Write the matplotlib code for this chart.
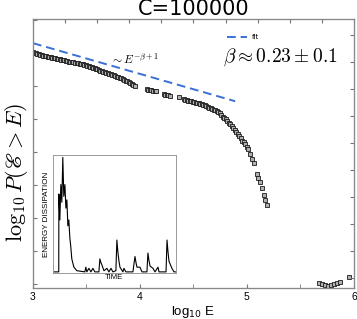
import numpy as np
import matplotlib
matplotlib.use('Agg')
import matplotlib.pyplot as plt

plt.rcParams['mathtext.fontset'] = 'cm'

###### CCDF data (log10 E, log10 P) ######
logE = [3.000, 3.014, 3.028, 3.042, 3.056, 3.070, 3.084, 3.098, 3.112, 3.126,
        3.140, 3.154, 3.168, 3.182, 3.196, 3.210, 3.224, 3.238, 3.252, 3.266,
        3.280, 3.294, 3.308, 3.322, 3.336, 3.350, 3.364, 3.378, 3.393, 3.407,
        3.421, 3.435, 3.449, 3.463, 3.477, 3.491, 3.505, 3.519, 3.533, 3.547,
        3.561, 3.575, 3.589, 3.603, 3.617, 3.631, 3.645, 3.659, 3.673, 3.687,
        3.701, 3.715, 3.729, 3.743, 3.757, 3.771, 3.785, 3.799, 3.813, 3.827,
        3.841, 3.855, 3.869, 3.883, 3.897, 3.911, 3.925, 3.939, 3.953,
        4.065, 4.079, 4.093, 4.107, 4.121, 4.136, 4.150,
        4.224, 4.238, 4.252, 4.266, 4.280,
        4.364,
        4.411, 4.425, 4.439, 4.453, 4.467, 4.481, 4.495, 4.509, 4.523, 4.537,
        4.551, 4.565, 4.579, 4.593, 4.607, 4.621, 4.635, 4.649, 4.663, 4.677,
        4.691, 4.705, 4.719, 4.733, 4.747, 4.761, 4.775, 4.789, 4.803, 4.817,
        4.831, 4.845, 4.859, 4.873, 4.887, 4.901, 4.915, 4.929, 4.943, 4.957,
        4.971, 4.985, 4.999, 5.013, 5.028, 5.047, 5.065,
        5.093, 5.107, 5.121, 5.140, 5.159, 5.173, 5.187,
        5.673, 5.701, 5.729, 5.757, 5.785, 5.813, 5.841, 5.869, 5.953]
logP = [-0.485, -0.492, -0.500, -0.508, -0.515, -0.523, -0.530, -0.538, -0.545, -0.550,
        -0.555, -0.560, -0.565, -0.570, -0.575, -0.580, -0.585, -0.590, -0.595, -0.600,
        -0.606, -0.612, -0.618, -0.623, -0.628, -0.633, -0.638, -0.643, -0.648, -0.652,
        -0.657, -0.662, -0.667, -0.672, -0.678, -0.684, -0.690, -0.697, -0.705, -0.713,
        -0.722, -0.731, -0.740, -0.749, -0.758, -0.767, -0.776, -0.784, -0.792, -0.800,
        -0.808, -0.815, -0.823, -0.831, -0.840, -0.849, -0.858, -0.867, -0.876, -0.885,
        -0.895, -0.906, -0.918, -0.930, -0.942, -0.958, -0.975, -0.988, -1.000,
        -1.050, -1.056, -1.061, -1.065, -1.068, -1.072, -1.076,
        -1.121, -1.128, -1.136, -1.143, -1.150,
        -1.167,
        -1.197, -1.205, -1.212, -1.220, -1.227, -1.232, -1.237, -1.243, -1.250, -1.257,
        -1.262, -1.268, -1.277, -1.286, -1.293, -1.299, -1.310, -1.325, -1.337, -1.347,
        -1.356, -1.362, -1.375, -1.390, -1.410, -1.445, -1.465, -1.480, -1.505, -1.532,
        -1.556, -1.580, -1.605, -1.630, -1.662, -1.695, -1.728, -1.757, -1.790, -1.825,
        -1.855, -1.885, -1.920, -1.960, -2.030, -2.100, -2.160,
        -2.330, -2.390, -2.450, -2.550, -2.650, -2.720, -2.800,
        -3.985, -4.000, -4.015, -4.030, -4.020, -4.000, -3.985, -3.970, -3.894]

###### fit line ######
fitE = [3.0, 4.89]
fitP = [-0.35, -1.23]

###### inset time series ######
t = [0.8, 4.5, 4.8, 4.9, 5.7, 6.5, 7.3, 8.1, 8.9, 9.8, 10.6, 11.4, 12.2, 13.0, 13.8,
     14.6, 15.4, 17.1, 19.5, 26.0, 26.8, 27.6, 29.3, 30.9, 32.5, 34.1, 37.4, 38.2,
     39.0, 39.8, 41.5, 43.9, 45.5, 47.2, 48.8, 51.2, 52.0, 52.8, 53.7, 54.5, 56.9,
     57.7, 59.3, 65.0, 66.7, 67.5, 68.3, 70.7, 72.4, 76.4, 77.2, 78.0, 78.9, 81.3,
     82.9, 85.4, 86.2, 91.9, 92.7, 93.5, 94.3, 96.7, 98.4, 99.5]
amp = [0.01, 0.01, 0.01, 0.67, 0.45, 0.75, 0.60, 0.98, 0.65, 0.75, 0.55, 0.62, 0.40, 0.45, 0.30,
       0.22, 0.12, 0.05, 0.02, 0.01, 0.05, 0.01, 0.04, 0.01, 0.04, 0.01, 0.01, 0.12,
       0.09, 0.07, 0.02, 0.04, 0.01, 0.04, 0.01, 0.02, 0.28, 0.18, 0.10, 0.05, 0.01,
       0.04, 0.01, 0.01, 0.14, 0.09, 0.05, 0.05, 0.01, 0.01, 0.17, 0.11, 0.06, 0.04,
       0.01, 0.05, 0.01, 0.01, 0.28, 0.18, 0.10, 0.04, 0.01, 0.01]

right_ticks = [-0.227, -0.636, -1.045, -1.455, -1.864, -2.273, -2.682, -3.091, -3.5, -3.909]

fig = plt.figure(figsize=(3.57, 3.19), dpi=100)
ax = fig.add_axes([0.0924, 0.0972, 0.899, 0.843])
ylo, yhi = -4.06, 0.015

ax.plot(logE, logP, 's', ms=2.4, mfc='#b0b0b0', mec='#1a1a1a', mew=0.6)
fl, = ax.plot(fitE, fitP, '--', color='#3b6fd6', lw=1.4, label='fit')
fl.set_dashes((4.5, 2.5))

ax.set_xlim(3, 6)
ax.set_ylim(ylo, yhi)
ax.set_xticks([3, 4, 5, 6])
ax.set_xticks([3.5, 4.5, 5.5], minor=True)
ax.set_yticks(np.arange(-4, 0.01, 0.5))
ax.set_yticklabels([])
ax.tick_params(direction='in', colors='#777777', labelcolor='black', labelsize=7.5, length=3, pad=3)
ax.tick_params(which='minor', direction='in', colors='#777777', length=3)
for lab in ax.get_xticklabels():
    lab.set_family('Liberation Sans')
for s in ax.spines.values():
    s.set_color('#888888')

###### twin axes just for the extra tick marks ######
axr = ax.twinx()
axr.set_ylim(ylo, yhi)
axr.set_yticks(right_ticks)
axr.set_yticklabels([])
axr.tick_params(direction='in', colors='#777777', length=3)
axt = ax.twiny()
axt.set_xlim(3, 6)
axt.set_xticks(np.arange(3, 6.01, 0.3))
axt.set_xticklabels([])
axt.tick_params(direction='in', colors='#777777', length=3)
for a in (axr, axt):
    for s in a.spines.values():
        s.set_color('#888888')

ax.set_xlabel('log$_{10}$ E', fontsize=9.5, family='Liberation Sans',
              math_fontfamily='dejavusans', labelpad=1)
ax.set_ylabel(r'$\log_{10}P(\mathscr{E}>E)$', fontsize=16)
ax.yaxis.set_label_coords(-0.01, 0.43)
axt.set_title('C=100000', fontsize=15, pad=1)

ax.legend(loc='center left', bbox_to_anchor=(0.605, 0.933), frameon=False, fontsize=5,
          handlelength=2.9, handletextpad=0.6, borderpad=0, borderaxespad=0)
ax.text(0.592, 0.859, r'$\beta \approx 0.23 \pm 0.1$', transform=ax.transAxes,
        fontsize=14, va='center', ha='left')
ax.text(0.24, 0.852, r'$\sim E^{-\beta+1}$', transform=ax.transAxes,
        fontsize=8.5, va='center', ha='left')

###### inset ######
ins = fig.add_axes([0.148, 0.144, 0.345, 0.370])
ins.plot(t, amp, color='black', lw=0.8)
ins.set_xlim(0, 100)
ins.set_ylim(0, 1)
ins.set_xticks([])
ins.set_yticks([])
for s in ins.spines.values():
    s.set_color('#999999')
    s.set_linewidth(0.7)
ins.set_ylabel('ENERGY DISSIPATION', fontsize=5.8, family='Liberation Sans', labelpad=2)
ins.set_xlabel('TIME', fontsize=5.5, family='Liberation Sans', labelpad=0.5)

fig.savefig('out.png', dpi=100)
